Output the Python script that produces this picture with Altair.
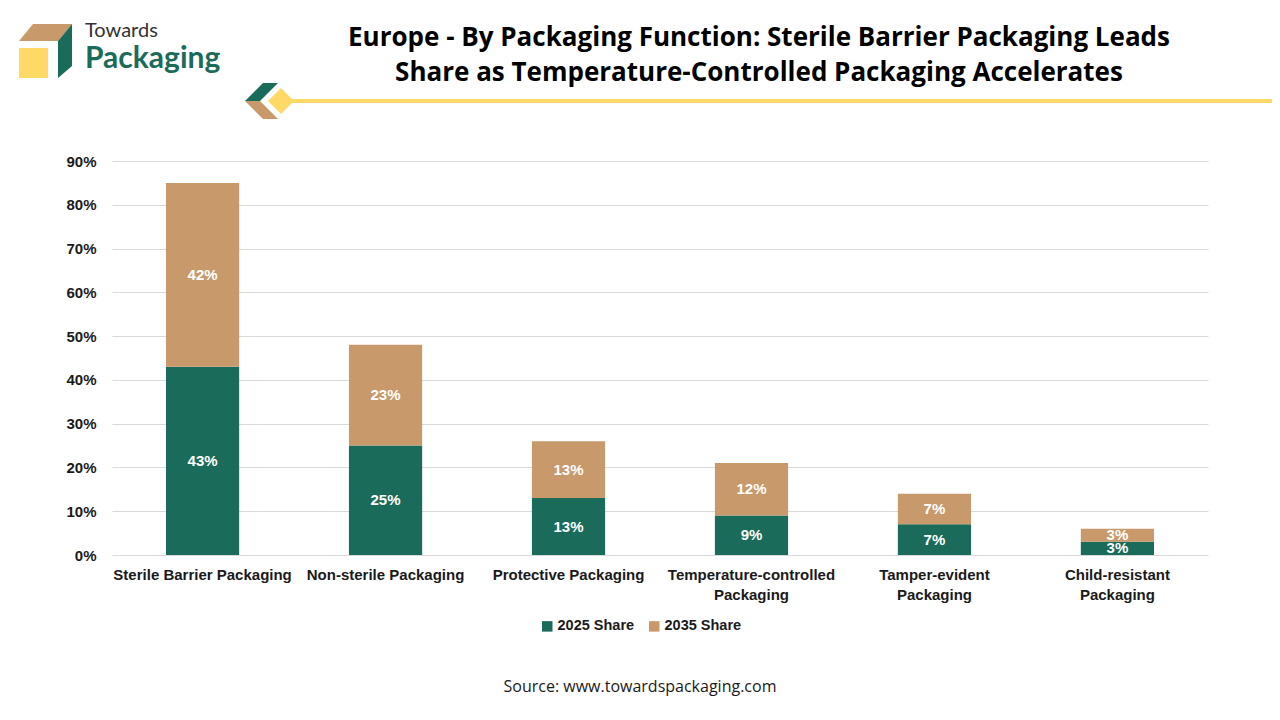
import altair as alt
import pandas as pd

categories = ["Sterile Barrier Packaging", "Non-sterile Packaging", "Protective Packaging",
              "Temperature-controlled Packaging", "Tamper-evident Packaging", "Child-resistant Packaging"]
label_lines = {
    "Temperature-controlled Packaging": ["Temperature-controlled", "Packaging"],
    "Tamper-evident Packaging": ["Tamper-evident", "Packaging"],
    "Child-resistant Packaging": ["Child-resistant", "Packaging"],
}
share_2025 = [43, 25, 13, 9, 7, 3]
share_2035 = [42, 23, 13, 12, 7, 3]
series = ["2025 Share", "2035 Share"]
colors = ["#1B6B5A", "#C8996A"]
y_ticks = [0, 10, 20, 30, 40, 50, 60, 70, 80, 90]

title_lines = ["Europe - By Packaging Function: Sterile Barrier Packaging Leads",
               "Share as Temperature-Controlled Packaging Accelerates"]
source_text = "Source: www.towardspackaging.com"

rows = []
for i, c in enumerate(categories):
    rows.append({"category": c, "series": series[0], "value": share_2025[i], "order": 0})
    rows.append({"category": c, "series": series[1], "value": share_2035[i], "order": 1})
df = pd.DataFrame(rows)

# label expression for two-line category labels
expr_parts = []
for k, v in label_lines.items():
    expr_parts.append(f"datum.label == '{k}' ? ['{v[0]}', '{v[1]}'] : ")
label_expr = "".join(expr_parts) + "datum.label"

AX_FONT = "Liberation Sans"

xenc = alt.X("category:N", sort=categories,
             scale=alt.Scale(paddingInner=0.6, paddingOuter=0.295),
             axis=alt.Axis(title=None, labelAngle=0, labelFont=AX_FONT, labelFontSize=15,
                           labelFontWeight="bold", labelColor="#1a1a1a", labelPadding=12,
                           labelLineHeight=20, ticks=False, domain=False, labelExpr=label_expr,
                           labelLimit=300))

base = alt.Chart(df).transform_stack(
    stack="value", as_=["y0", "y1"], groupby=["category"], sort=[alt.SortField("order")]
).transform_calculate(mid="(datum.y0 + datum.y1) / 2", lbl="datum.value + '%'")

bars = base.mark_bar().encode(
    x=xenc,
    y=alt.Y("y0:Q", scale=alt.Scale(domain=[0, 90], nice=False),
            axis=alt.Axis(title=None, values=y_ticks, labelExpr="datum.value + '%'",
                          labelFont=AX_FONT, labelFontSize=15, labelFontWeight="bold",
                          labelColor="#1a1a1a", labelPadding=16, ticks=False, domain=False,
                          grid=True, gridColor="#d9d9d9", gridWidth=1)),
    y2="y1:Q",
    color=alt.Color("series:N", scale=alt.Scale(domain=series, range=colors),
                    legend=alt.Legend(title=None, orient="none", legendX=428, legendY=458,
                                      direction="horizontal", symbolType="square",
                                      symbolSize=110, symbolStrokeWidth=0,
                                      labelFont=AX_FONT, labelFontSize=14.5, labelFontWeight="bold",
                                      labelColor="#1a1a1a", columnPadding=12, labelOffset=3,
                                      padding=0)),
    order=alt.Order("order:Q"),
)

labels = base.mark_text(color="white", fontWeight="bold", fontSize=15, font=AX_FONT,
                        baseline="middle").encode(
    x=alt.X("category:N", sort=categories),
    y="mid:Q",
    text="lbl:N",
)


def one(text=""):
    return alt.Chart(alt.InlineData(values=[{"t": text}]))


# Logo (decorative)
S = 3136
logo_tan = one().mark_point(filled=True, opacity=1, strokeWidth=0, color="#C8996A",
                            shape="M-0.464,-0.964 L0.929,-0.964 L0.429,-0.357 L-0.964,-0.357 Z",
                            size=S).encode(x=alt.value(-66), y=alt.value(-110))
logo_green = one().mark_point(filled=True, opacity=1, strokeWidth=0, color="#1B6B5A",
                              shape="M0.429,-0.357 L0.929,-0.964 L0.929,0.536 L0.429,0.964 Z",
                              size=S).encode(x=alt.value(-66), y=alt.value(-110))
logo_yellow = one().mark_point(filled=True, opacity=1, strokeWidth=0, color="#FFD966",
                               shape="M-0.964,-0.107 L0.071,-0.107 L0.071,0.964 L-0.964,0.964 Z",
                               size=S).encode(x=alt.value(-66), y=alt.value(-110))
logo_t1 = one("Towards").mark_text(align="left", baseline="alphabetic", font="Lato",
                                   fontSize=20, color="#333333").encode(
    x=alt.value(-27), y=alt.value(-124), text="t:N")
logo_t2 = one("Packaging").mark_text(align="left", baseline="alphabetic", font="Lato",
                                     fontSize=30, fontWeight="bold", color="#1B6B5A").encode(
    x=alt.value(-27), y=alt.value(-93), text="t:N")

# decorative separator
C2 = 2500
dec_green = one().mark_point(filled=True, opacity=1, strokeWidth=0, color="#1B6B5A",
                             shape="M-1,0 L-0.28,-0.72 L0.32,-0.72 L-0.4,0 Z",
                             size=C2).encode(x=alt.value(158), y=alt.value(-60))
dec_tan = one().mark_point(filled=True, opacity=1, strokeWidth=0, color="#C8996A",
                           shape="M-1,0 L-0.4,0 L0.32,0.72 L-0.28,0.72 Z",
                           size=C2).encode(x=alt.value(158), y=alt.value(-60))
dec_line = one().mark_rule(color="#FFD966", strokeWidth=4).encode(
    x=alt.value(178), x2=alt.value(1160), y=alt.value(-60))
dec_yellow = one().mark_point(filled=True, opacity=1, strokeWidth=0, color="#FFD966",
                              shape="M0.44,-0.52 L0.96,0 L0.44,0.52 L-0.08,0 Z",
                              size=C2).encode(x=alt.value(158), y=alt.value(-60))

title1 = one(title_lines[0]).mark_text(align="center", baseline="alphabetic", font="Open Sans",
                                       fontSize=26, fontWeight="bold", color="#000000").encode(
    x=alt.value(647), y=alt.value(-115), text="t:N")
title2 = one(title_lines[1]).mark_text(align="center", baseline="alphabetic", font="Open Sans",
                                       fontSize=26, fontWeight="bold", color="#000000").encode(
    x=alt.value(647), y=alt.value(-80), text="t:N")
source = one(source_text).mark_text(align="center", baseline="alphabetic", font="Open Sans",
                                    fontSize=16, color="#1a1a1a").encode(
    x=alt.value(528), y=alt.value(531), text="t:N")

chart = alt.layer(
    bars, labels,
    logo_tan, logo_green, logo_yellow, logo_t1, logo_t2,
    dec_line, dec_green, dec_tan, dec_yellow,
    title1, title2, source,
).properties(
    width=1096, height=394,
    autosize=alt.AutoSizeParams(type="none"),
    padding={"left": 104, "top": 153, "right": 64, "bottom": 150},
    background="white",
).configure_view(stroke=None)

chart.save("out.html", embed_options={"renderer": "svg", "actions": False})
